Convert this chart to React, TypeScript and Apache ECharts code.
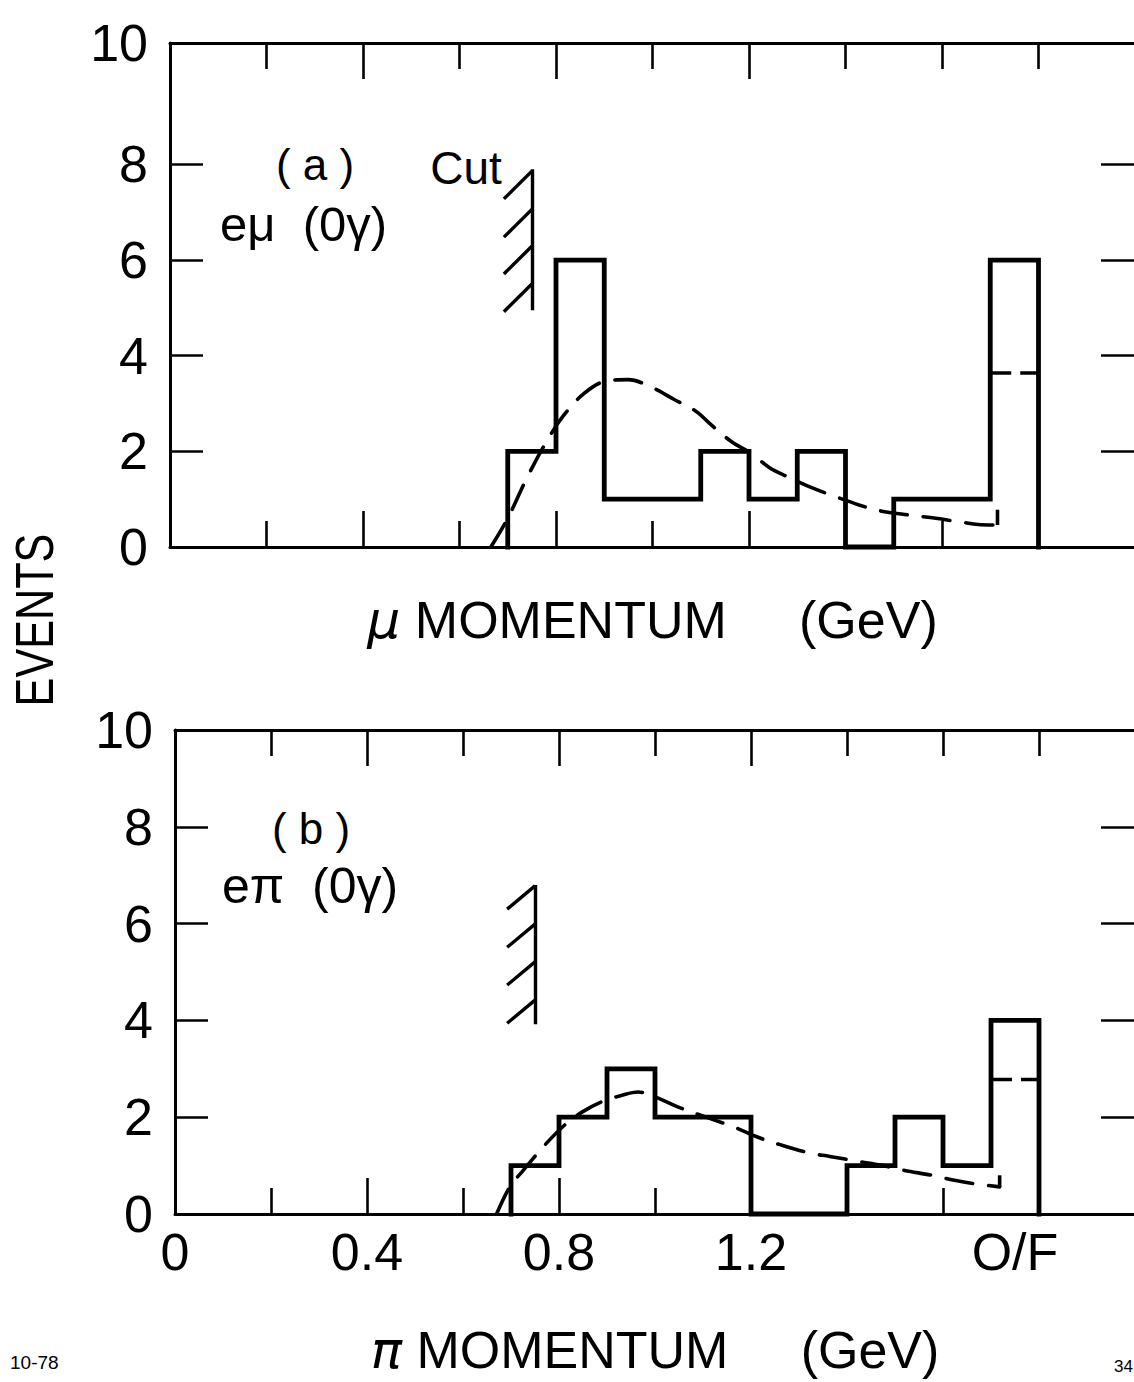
import React, { useEffect, useRef } from "react";
import * as echarts from "echarts";

// ---- data ----
const BIN_EDGES = [0.7, 0.8, 0.9, 1.0, 1.1, 1.2, 1.3, 1.4, 1.5, 1.6, 1.7, 1.8];
const EVENTS_MU = [2, 6, 1, 1, 2, 1, 2, 0, 1, 1, 6];
const EVENTS_PI = [1, 2, 3, 2, 2, 0, 0, 1, 2, 1, 4];

const CURVE_MU: number[][] = [
  [0.665, 0], [0.7, 0.6], [0.74, 1.45], [0.78, 2.2], [0.815, 2.74], [0.857, 3.2],
  [0.9, 3.46], [0.95, 3.5], [1.0, 3.33], [1.044, 3.09], [1.09, 2.84], [1.12, 2.57],
  [1.164, 2.2], [1.203, 1.97], [1.245, 1.64], [1.28, 1.47], [1.33, 1.24], [1.372, 1.08],
  [1.428, 0.88], [1.47, 0.76], [1.53, 0.67], [1.58, 0.61], [1.64, 0.52], [1.675, 0.47],
  [1.715, 0.46],
];
const CURVE_PI: number[][] = [
  [0.67, 0], [0.698, 0.57], [0.722, 0.86], [0.771, 1.43], [0.813, 1.85], [0.847, 2.1],
  [0.889, 2.32], [0.93, 2.45], [0.965, 2.52], [1.0, 2.42], [1.046, 2.22], [1.095, 2.04],
  [1.127, 1.93], [1.166, 1.79], [1.216, 1.58], [1.258, 1.44], [1.322, 1.26], [1.364, 1.19],
  [1.428, 1.08], [1.47, 1.01], [1.52, 0.9], [1.577, 0.8], [1.627, 0.69], [1.67, 0.62],
  [1.718, 0.56],
];
const CURVE_END_MU: number[][] = [[1.715, 0.46], [1.715, 0.78]];
const CURVE_END_PI: number[][] = [[1.718, 0.56], [1.718, 0.8]];

const OVERFLOW_BIN = [1.7, 1.8];
const OVERFLOW_EXPECTED_MU = 3.64;
const OVERFLOW_EXPECTED_PI = 2.78;

const CUT_X = 0.75;
const CUT_MU = { low: 4.95, high: 7.9, hatchTops: [7.86, 7.06, 6.29, 5.5], dx: 0.058, dy: 0.58 };
const CUT_PI = { low: 3.92, high: 6.8, hatchTops: [6.78, 5.99, 5.21, 4.42], dx: 0.058, dy: 0.48 };

// the frame of panel (a) reaches a little above 10 events; its "10" label sits on the frame
const Y_MAX_MU = 10.54;
const Y_MAX_PI = 10;
const Y_LABEL_TEXTS = ["0", "2", "4", "6", "8", "10"];
const Y_TICK_VALUES = [2, 4, 6, 8];
const X_SHORT_TICKS = [0.2, 0.6, 1.0, 1.4, 1.6, 1.8];
const X_LONG_TICKS = [0.4, 0.8, 1.2];
const X_LABEL_VALUES = [0, 0.4, 0.8, 1.2, 1.75];
const X_LABEL_TEXTS = ["0", "0.4", "0.8", "1.2", "O/F"];

const FONT = "'Liberation Sans', 'DejaVu Sans', sans-serif";
const INK = "#000";

function stepPoints(edges: number[], counts: number[]) {
  const pts: number[][] = [[edges[0], 0]];
  counts.forEach((c, i) => {
    pts.push([edges[i], c]);
    pts.push([edges[i + 1], c]);
  });
  pts.push([edges[edges.length - 1], 0]);
  return pts;
}

function cutSegments(cut: { low: number; high: number; hatchTops: number[]; dx: number; dy: number }) {
  const segs: any[] = [{ coords: [[CUT_X, cut.low], [CUT_X, cut.high]] }];
  cut.hatchTops.forEach((t) => segs.push({ coords: [[CUT_X, t], [CUT_X - cut.dx, t - cut.dy]] }));
  return segs;
}

export default function App() {
  const ref = useRef<HTMLDivElement>(null);

  useEffect(() => {
    if (!ref.current) return;
    const chart = echarts.init(ref.current, null, { renderer: "svg" });

    const grids = [
      { left: 170, top: 43, width: 965, height: 504, outerBoundsMode: "none" },
      { left: 175, top: 730, width: 960, height: 484, outerBoundsMode: "none" },
    ];
    const yMax = [Y_MAX_MU, Y_MAX_PI];

    const tickLine = { color: INK, width: 2.6 };
    const xAxes: any[] = [];
    const yAxes: any[] = [];
    const titles = [
      { text: "{i|μ} MOMENTUM\u00A0\u00A0\u00A0\u00A0\u00A0(GeV)", gap: 47 },
      { text: "{i|π} MOMENTUM\u00A0\u00A0\u00A0\u00A0\u00A0(GeV)", gap: 110 },
    ];

    grids.forEach((_, g) => {
      const base = { type: "value", gridIndex: g, min: 0, max: 2, splitLine: { show: false } };
      xAxes.push({
        ...base,
        position: "bottom",
        axisLine: { show: true, onZero: false, lineStyle: { color: INK, width: 3 } },
        axisTick: { show: true, inside: true, length: 26, lineStyle: tickLine, customValues: X_SHORT_TICKS },
        axisLabel: {
          show: g === 1,
          customValues: X_LABEL_VALUES,
          formatter: (v: number) => {
            const i = X_LABEL_VALUES.findIndex((x) => Math.abs(x - v) < 1e-6);
            return i >= 0 ? X_LABEL_TEXTS[i] : "";
          },
          margin: 12,
          color: INK,
          fontSize: 52,
          fontFamily: FONT,
        },
        name: titles[g].text,
        nameLocation: "middle",
        nameGap: titles[g].gap,
        nameTextStyle: {
          color: INK,
          fontSize: 52,
          fontFamily: FONT,
          rich: { i: { fontStyle: "italic", fontSize: 52, fontFamily: "'DejaVu Sans', sans-serif", color: INK } },
        },
      });
      xAxes.push({
        ...base,
        position: "bottom",
        axisLine: { show: false, onZero: false },
        axisTick: { show: true, inside: true, length: 36, lineStyle: tickLine, customValues: X_LONG_TICKS },
        axisLabel: { show: false },
      });
      xAxes.push({
        ...base,
        position: "top",
        axisLine: { show: true, onZero: false, lineStyle: { color: INK, width: 3 } },
        axisTick: { show: true, inside: true, length: 26, lineStyle: tickLine, customValues: X_SHORT_TICKS },
        axisLabel: { show: false },
      });
      xAxes.push({
        ...base,
        position: "top",
        axisLine: { show: false, onZero: false },
        axisTick: { show: true, inside: true, length: 36, lineStyle: tickLine, customValues: X_LONG_TICKS },
        axisLabel: { show: false },
      });

      const labelValues = [0, 2, 4, 6, 8, yMax[g]];
      const ybase = { type: "value", gridIndex: g, min: 0, max: yMax[g], splitLine: { show: false } };
      yAxes.push({
        ...ybase,
        position: "left",
        axisLine: { show: true, onZero: false, lineStyle: { color: INK, width: 3 } },
        axisTick: { show: true, inside: true, length: 33, lineStyle: tickLine, customValues: Y_TICK_VALUES },
        axisLabel: {
          show: true,
          customValues: labelValues,
          formatter: (v: number) => {
            const i = labelValues.findIndex((x) => Math.abs(x - v) < 1e-6);
            return i >= 0 ? Y_LABEL_TEXTS[i] : "";
          },
          margin: 22,
          color: INK,
          fontSize: 52,
          fontFamily: FONT,
        },
      });
      yAxes.push({
        ...ybase,
        position: "right",
        axisLine: { show: true, onZero: false, lineStyle: { color: INK, width: 3 } },
        axisTick: { show: true, inside: true, length: 34, lineStyle: tickLine, customValues: Y_TICK_VALUES },
        axisLabel: { show: false },
      });
    });

    const panels = [
      { counts: EVENTS_MU, curve: CURVE_MU, end: CURVE_END_MU, over: OVERFLOW_EXPECTED_MU, cut: CUT_MU },
      { counts: EVENTS_PI, curve: CURVE_PI, end: CURVE_END_PI, over: OVERFLOW_EXPECTED_PI, cut: CUT_PI },
    ];

    const series: any[] = [];
    panels.forEach((p, g) => {
      const ax = { xAxisIndex: g * 4, yAxisIndex: g * 2 };
      series.push({
        type: "line",
        ...ax,
        data: stepPoints(BIN_EDGES, p.counts),
        symbol: "none",
        clip: false,
        lineStyle: { color: INK, width: 4.8, join: "miter", cap: "square" },
        z: 4,
      });
      series.push({
        type: "line",
        ...ax,
        data: p.curve,
        smooth: 0.35,
        symbol: "none",
        clip: false,
        lineStyle: { color: INK, width: 3.6, type: [27, 16], cap: "round" },
        z: 3,
      });
      series.push({
        type: "line",
        ...ax,
        data: p.end,
        symbol: "none",
        clip: false,
        lineStyle: { color: INK, width: 3.6 },
        z: 3,
      });
      series.push({
        type: "line",
        ...ax,
        data: [[OVERFLOW_BIN[0], p.over], [OVERFLOW_BIN[1], p.over]],
        symbol: "none",
        clip: false,
        lineStyle: { color: INK, width: 3.6, type: [21, 9] },
        z: 3,
      });
      series.push({
        type: "lines",
        coordinateSystem: "cartesian2d",
        ...ax,
        data: cutSegments(p.cut),
        silent: true,
        lineStyle: { color: INK, width: 3.4, opacity: 1, curveness: 0 },
        z: 3,
      });
    });

    const txt = (
      x: number,
      y: number,
      text: string,
      size: number,
      align = "left",
      rotation = 0,
      scaleX = 1
    ) => ({
      type: "text",
      x,
      y,
      rotation,
      scaleX,
      style: { text, fontSize: size, fontFamily: FONT, fill: INK, align, verticalAlign: "middle" },
    });

    chart.setOption({
      animation: false,
      backgroundColor: "#fff",
      grid: grids,
      xAxis: xAxes,
      yAxis: yAxes,
      series,
      graphic: [
        txt(315, 164, "( a )", 44, "center"),
        txt(466, 168, "Cut", 46, "center"),
        txt(220, 224, "eμ\u00A0\u00A0(0γ)", 49, "left"),
        txt(311, 828, "( b )", 44, "center"),
        txt(222, 886, "eπ\u00A0\u00A0(0γ)", 50, "left"),
        txt(34, 620, "EVENTS", 54, "center", Math.PI / 2, 0.8),
        txt(10, 1362, "10-78", 19, "left"),
        txt(1114, 1366, "34", 17, "left"),
      ],
    });

    return () => chart.dispose();
  }, []);

  return (
    <div
      ref={ref}
      style={{ position: "absolute", left: 0, top: 0, width: 1134, height: 1382, background: "#fff" }}
    />
  );
}
